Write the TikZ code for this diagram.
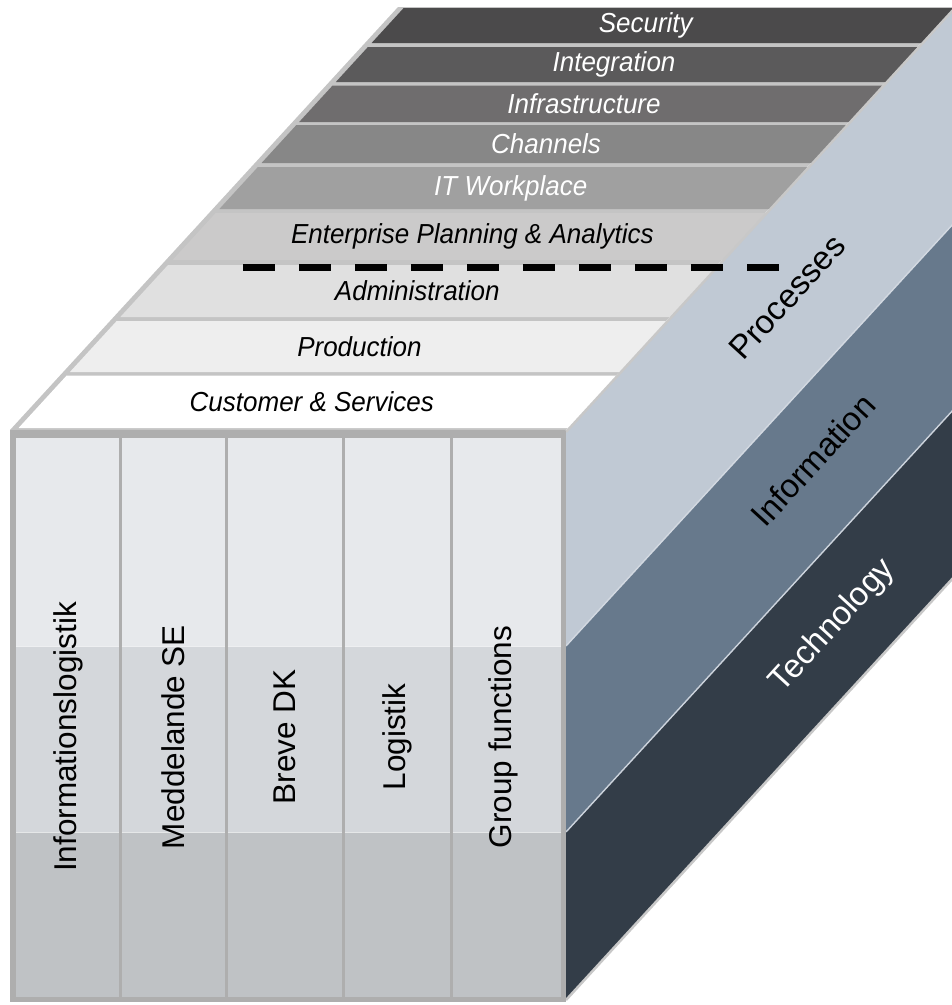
\documentclass[tikz,border=0pt]{standalone}
\usepackage{fontspec}
\setmainfont{Liberation Sans}
\newfontfamily\slabfont[FakeStretch=0.945]{Liberation Sans}
\definecolor{csec}{HTML}{4B4A4B}
\definecolor{cint}{HTML}{5B5A5B}
\definecolor{cinf}{HTML}{6F6D6E}
\definecolor{cchan}{HTML}{878787}
\definecolor{citw}{HTML}{A0A0A0}
\definecolor{cepa}{HTML}{CBCACA}
\definecolor{cadm}{HTML}{E0E0E0}
\definecolor{cprod}{HTML}{EEEEEE}
\definecolor{ccs}{HTML}{FFFFFF}
\definecolor{topbase}{HTML}{C4C4C4}
\definecolor{rim}{HTML}{AEAEAE}
\definecolor{bandA}{HTML}{E7E9EC}
\definecolor{bandB}{HTML}{D4D7DB}
\definecolor{bandC}{HTML}{BFC2C5}
\definecolor{cproc}{HTML}{C0C9D4}
\definecolor{cinfo}{HTML}{67798C}
\definecolor{ctech}{HTML}{333D48}
\definecolor{sideedge}{HTML}{C8C8C8}
\begin{document}
\begin{tikzpicture}[x=1pt,y=-1pt,
  slabtext/.style={font=\slabfont\itshape\fontsize{27.5}{31}\selectfont, inner sep=0pt},
  coltext/.style={font=\fontsize{31.5}{36}\selectfont, rotate=90, inner sep=0pt, text=black},
  sidetext/.style={font=\fontsize{33}{38}\selectfont, rotate=47.5, inner sep=0pt},
  sideline/.style={draw=sideedge, line width=2.5pt},
  bandline/.style={draw=#1, line width=1.4pt},
  dashline/.style={line width=7pt, dash pattern=on 32pt off 24pt, black}]
\useasboundingbox (0,0) rectangle (952,1005);
\fill[white] (0,0) rectangle (952,1005);

% top face base
\fill[topbase] (10,430) -- (566,430) -- (954,7) -- (398,7) -- cycle;

% slabs of the top face
\foreach \yt/\yb/\dx/\col/\tc/\txt/\nm in {
  8/43/-17/csec/white/Security/s1,
  47/82/-13/cint/white/Integration/s2,
  85.5/122/-7/cinf/white/Infrastructure/s3,
  125/163/-8/cchan/white/Channels/s4,
  167/209/-3/citw/white/IT Workplace/s5,
  213/260/3/cepa/black/Enterprise Planning \& Analytics/s6,
  265/317/-2/cadm/black/Administration/s7,
  321/372/-9/cprod/black/Production/s8,
  375.5/428/-6/ccs/black/Customer \& Services/s9}
{
  \pgfmathsetmacro\xlt{16.7+0.917*(430-\yt)}
  \pgfmathsetmacro\xlb{16.7+0.917*(430-\yb)}
  \pgfmathsetmacro\xrt{566+0.917*(431-\yt)}
  \pgfmathsetmacro\xrb{566+0.917*(431-\yb)}
  \pgfmathsetmacro\ym{(\yt+\yb)/2}
  \pgfmathsetmacro\xc{(16.7+567)/2+0.917*(430-\ym)+\dx}
  \fill[\col] (\xlt,\yt) -- (\xrt,\yt) -- (\xrb,\yb) -- (\xlb,\yb) -- cycle;
  \node[slabtext, text=\tc] (\nm) at (\xc,\ym) {\txt};
}

% front face
\fill[rim] (10,430) rectangle (566,1002);
\foreach \xa/\xb in {16/118.5, 121.5/224.5, 227.5/341.5, 344.5/449.5, 452.5/561}
{
  \fill[bandA] (\xa,438) rectangle (\xb,646);
  \fill[bandB] (\xa,646) rectangle (\xb,832);
  \fill[bandC] (\xa,832) rectangle (\xb,997);
  \draw[bandline=white!60!bandB] (\xa,646.5) -- (\xb,646.5);
  \draw[bandline=white!60!bandC] (\xa,832.5) -- (\xb,832.5);
}
\node[coltext] (f1) at (68,737) {Informationslogistik};
\node[coltext] (f2) at (173,737) {Meddelande SE};
\node[coltext] (f3) at (285,737) {Breve DK};
\node[coltext] (f4) at (397,737) {Logistik};
\node[coltext] (f5) at (503,737) {Group functions};

% side face
\fill[cproc] (566,432) -- (954,9) -- (954,223) -- (566,646) -- cycle;
\fill[cinfo] (566,646) -- (954,223) -- (954,409) -- (566,832) -- cycle;
\fill[ctech] (566,832) -- (954,409) -- (954,577) -- (566,1000) -- cycle;
\draw[bandline=cproc!70!white] (566,646) -- (954,223);
\draw[bandline=cproc!80!white] (566,832) -- (954,409);
\draw[sideline] (566,432) -- (954,9);
\draw[sideline] (566,1000) -- (954,577);
\draw[draw=rim, line width=2pt] (565,431) -- (565,1001);

\node[sidetext, text=black] (p1) at (787,297) {Processes};
\node[sidetext, text=black] (p2) at (813,460) {Information};
\node[sidetext, text=white] (p3) at (833,626) {Technology};

% dashed separator
\coordinate (d1) at (243,267);
\coordinate (d2) at (780,267);
\draw[dashline] (d1) -- (d2);
\end{tikzpicture}
\end{document}
